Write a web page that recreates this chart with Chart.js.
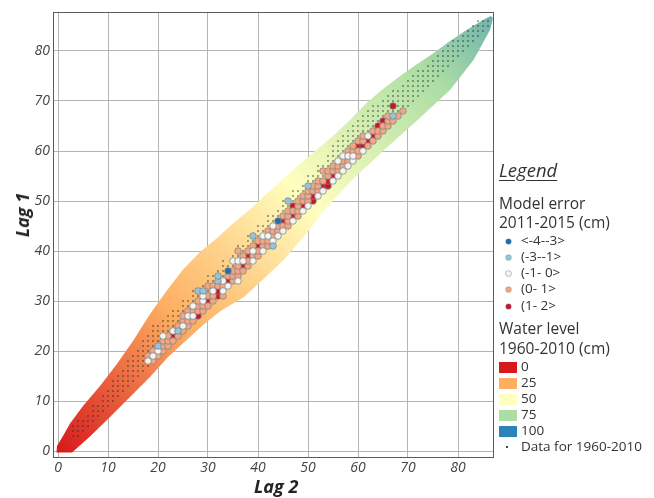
<!DOCTYPE html>
<html><head><meta charset="utf-8">
<script src="https://cdn.jsdelivr.net/npm/chart.js@4/dist/chart.umd.min.js"></script>
<style>
body{margin:0;background:#fff;}
#wrap{position:relative;width:654px;height:498px;font-family:"Open Sans",sans-serif;color:#333;overflow:hidden;}
#c{position:absolute;left:0;top:0;}
.lg{position:absolute;white-space:nowrap;line-height:1;}
.ax{position:absolute;white-space:nowrap;line-height:1;font-size:18px;font-style:italic;font-weight:bold;color:#222;}
</style></head><body>
<div id="wrap"><canvas id="c" width="654" height="498"></canvas><div id="legend"></div></div>
<script>
// ---- tick labels ----
const xTicks = [0,10,20,30,40,50,60,70,80];
const yTicks = [0,10,20,30,40,50,60,70,80];
const xTitle = 'Lag 2';
const yTitle = 'Lag 1';

// ---- water level band 1960-2010 (outline in Lag 2, Lag 1) ----
const bandUpper = [[-0.3,-0.3],[-0.2,1],[1,3],[2.4,5.5],[5,9],[8.4,13],[11.7,17.3],[15,22],[18.4,27.4],[21.7,32],[25,36.3],[28.4,39.8],[31.7,42.5],[35,45.5],[38.4,48.3],[41.7,51.4],[45,54.4],[50,58.8],[55,63],[58.4,66.2],[61.7,69.6],[65,72.4],[68.4,75],[71.7,77.3],[75,79.5],[78.4,82],[81.7,84.2],[84,85.6],[85.7,86.6],[86.6,87]];
const bandLower = [[87,86.6],[86.4,84.2],[83.1,78.2],[78.4,72.2],[71.7,66],[65,60],[58.4,53.8],[53.5,48.5],[49.7,43.5],[45.1,38.2],[41,34.3],[37.2,30.8],[32.5,28],[29,25.2],[25.5,22],[22,18.8],[18.4,14.8],[14.4,10.8],[10.4,6.8],[6.4,2.9],[2.8,-0.3]];
const levelLabels = ['0','25','50','75','100'];
const levelValues = [0,25,50,75,100];
const levelColors = ['#d7191c','#fdae61','#ffffbf','#abdda4','#2b83ba'];

// ---- observed data 1960-2010: [Lag 2, Lag 1 from, Lag 1 to] ----
const dotColumns = [[3,3,5],[4,3,6],[5,4,6],[6,5,7],[7,6,9],[8,7,9],[9,8,11],[10,9,12],[11,10,14],[12,11,15],[13,12,16],[14,13,18],[15,14,19],[16,15,20],[17,16,22],[18,17,23],[19,18,25],[20,20,25],[21,21,26],
[22,22,27],[23,23,28],[24,24,28],[25,25,30],[26,26,30],[27,27,32],[28,28,32],[29,29,33],[30,30,35],[31,31,35],[32,32,36],[33,33,38],[34,34,37],[35,35,39],[36,36,41],[37,37,41],[38,38,43],[39,39,42],[40,40,45],[41,41,45],[42,42,47],[43,43,47],[44,44,48],[45,45,50],[46,46,50],[47,47,52],[48,48,52],[49,49,53],[50,50,55],[51,51,55],[52,52,57],[53,53,57],[54,54,59],
[55,56,61],[56,57,62],[57,58,63],[58,59,64],[59,60,65],[60,61,66],[61,62,67],[62,63,68],[63,64,69],[64,64,69],[65,65,70],[66,66,71],[67,67,72],[68,68,72],[69,68,73],[70,69,74],[71,70,75],[72,71,76],[73,72,76],[74,73,77],[75,74,78],[76,75,79],[77,76,80],[78,77,81],[79,78,82],[80,79,82],[81,80,83],[82,81,84],[83,82,85],[84,83,86],[85,84,86],[86,85,86]];
const dotLabel = 'Data for 1960-2010';

// ---- model error 2011-2015 (cm): [Lag 2, Lag 1] ----
const errorLabels = ['<-4--3>','(-3--1>','(-1- 0>','(0- 1>','(1- 2>'];
const errorColors = ['#1f6fae','#92c5de','#f4f4f4','#f4a582','#cc1426'];
const errDarkBlue = [[34,36],[44,46]];
const errLightBlue = [[20,21],[24,24],[28,32],[29,32],[32,34],[32,35],[39,43],[43,41],[46,50],[50,53],[67,67]];
const errWhite = [[18,18],[19,19],[20,20],[21,23],[23,24],[25,25],[26,27],[27,27],[27,29],[29,30],[29,31],[31,32],[33,32],[33,34],[34,33],[35,38],[36,34],[36,38],[37,38],[39,38],[39,40],[41,40],[41,43],[42,43],[43,42],[43,45],[44,43],[45,44],[47,46],[49,48],[50,49],[52,51],[53,52],[55,54],[56,55],[56,58],[57,56],[57,59],[58,57],[58,59],[59,58],[59,59],[61,60],[62,63]];
const errSalmon = [[18,19],[19,18],[19,20],[20,19],[21,20],[21,21],[21,22],[22,21],[22,22],[22,23],[23,22],[24,23],[24,25],[25,24],[25,26],[25,27],[26,25],[26,26],[26,28],[27,26],[27,28],[28,28],[28,29],[28,30],[29,28],[29,29],[30,29],[30,31],[30,33],[31,30],[31,31],[31,33],[32,33],[33,31],[33,33],[34,35],[35,34],[35,35],[35,36],[36,35],[36,36],[36,37],[36,40],[37,36],[37,39],[38,37],[38,38],[38,40],[39,39],[39,41],[40,39],[40,40],[40,42],[41,41],[41,42],[42,41],[42,42],[42,44],[43,43],[43,44],[44,44],[44,45],[45,45],[45,47],[46,45],[46,46],[46,47],[46,48],[47,48],[48,47],[48,48],[48,49],[48,50],[49,50],[49,51],[50,50],[50,51],[50,52],[51,52],[51,53],[52,52],[52,53],[52,54],[53,54],[53,56],[54,55],[54,56],[55,56],[55,57],[56,56],[56,57],[57,57],[57,58],[58,58],[58,60],[59,60],[59,61],[60,59],[60,60],[60,62],[61,62],[61,63],[62,61],[63,62],[63,64],[64,63],[64,64],[65,64],[65,65],[66,65],[66,66],[66,67],[67,66],[68,67],[69,68]];
const errRed = [[23,23],[28,27],[30,30],[32,31],[32,32],[34,34],[37,37],[38,39],[40,41],[45,46],[47,47],[47,49],[49,49],[51,50],[51,51],[53,53],[54,53],[54,54],[55,55],[60,61],[61,61],[62,62],[63,63],[64,65],[65,66],[67,69]];
const errSeries = [errDarkBlue, errLightBlue, errWhite, errSalmon, errRed];

// ---- build datasets ----
const toPts = a => a.map(p => ({x:p[0], y:p[1]}));
const bandPts = toPts(bandUpper.concat(bandLower));
const dotPts = [];
dotColumns.forEach(c => { for (let m = c[1]; m <= c[2]; m++) dotPts.push({x:c[0], y:m}); });

function bandGradient(ctx){
  const chart = ctx.chart, area = chart.chartArea;
  if (!area || !chart.scales.x) return levelColors[1];
  const sx = chart.scales.x, sy = chart.scales.y;
  const lo = levelValues[0], hi = levelValues[levelValues.length-1];
  const g = chart.ctx.createLinearGradient(sx.getPixelForValue(lo), sy.getPixelForValue(lo), sx.getPixelForValue(hi), sy.getPixelForValue(hi));
  levelValues.forEach((v,i) => g.addColorStop((v-lo)/(hi-lo), levelColors[i]));
  return g;
}

const datasets = [
  {label:'Water level', data: bandPts, showLine:true, fill:'shape', backgroundColor: bandGradient, borderWidth:0, pointRadius:0, order:10, tension:0},
  {label: dotLabel, data: dotPts, pointRadius:0.75, backgroundColor:'#2a2a2a', borderWidth:0, order:5}
];
errSeries.forEach((s,i) => datasets.push({label: errorLabels[i], data: toPts(s), pointRadius:3.3, backgroundColor: errorColors[i], borderColor:'#858585', borderWidth:0.8, order:1}));

const framePlugin = {id:'frame', afterDatasetsDraw(chart){
  const a = chart.chartArea, c = chart.ctx;
  c.save(); c.strokeStyle = '#5a5a5a'; c.lineWidth = 1;
  c.strokeRect(Math.round(a.left)+0.5, Math.round(a.top)+0.5, Math.round(a.right-a.left)-1, Math.round(a.bottom-a.top)-1);
  c.restore();
}};

Chart.defaults.font.family = '"Open Sans", sans-serif';
new Chart(document.getElementById('c'), {
  type:'scatter',
  data:{datasets},
  plugins:[framePlugin],
  options:{
    responsive:false, animation:false, devicePixelRatio:1, events:[],
    layout:{padding:{left:0, top:12, right:160, bottom:0}},
    plugins:{legend:{display:false}, tooltip:{enabled:false}},
    scales:{
      x:{type:'linear', min:-1, max:87.2,
        afterBuildTicks: s => { s.ticks = xTicks.map(v => ({value:v})); },
        afterFit: s => { s.height = 40; },
        grid:{color:'#b4b4b4', lineWidth:1, drawTicks:false},
        border:{display:false},
        ticks:{padding:2, color:'#444', font:{size:14, style:'italic'}, callback: v => String(v)},
        title:{display:false}
      },
      y:{type:'linear', min:-1.4, max:87.8,
        afterBuildTicks: s => { s.ticks = yTicks.map(v => ({value:v})); },
        afterFit: s => { s.width = 53; },
        grid:{color:'#b4b4b4', lineWidth:1, drawTicks:false},
        border:{display:false},
        ticks:{padding:3, color:'#444', font:{size:14, style:'italic'}, callback: v => String(v)},
        title:{display:false}
      }
    }
  }
});

// ---- HTML axis titles and legend ----
const W = document.getElementById('wrap');
const xt = document.createElement('div'); xt.className='ax'; xt.textContent = xTitle;
xt.style.cssText = 'left:254px;top:477px;'; W.appendChild(xt);
const yt = document.createElement('div'); yt.className='ax'; yt.textContent = yTitle;
yt.style.cssText = 'left:22px;top:215px;transform:translate(-50%,-50%) rotate(-90deg);'; W.appendChild(yt);

const L = document.getElementById('legend');
function add(html, style){ const d = document.createElement('div'); d.className='lg'; d.innerHTML = html; d.style.cssText += style; L.appendChild(d); return d; }
add('Legend', 'left:499px;top:161px;font-size:18.5px;font-style:italic;text-decoration:underline;text-underline-offset:3px;');
add('Model error', 'left:499px;top:196px;font-size:15.5px;');
add('2011-2015 (cm)', 'left:499px;top:215px;font-size:15.5px;');
errorLabels.forEach((t,i) => {
  const cy = 241 + i*16.3;
  add('', `left:${505.5}px;top:${cy-2.5}px;width:5px;height:5px;border-radius:50%;background:${errorColors[i]};box-shadow:0 0 0 0.6px #9a9a9a;`);
  add(t.replace(/</g,'&lt;').replace(/>/g,'&gt;'), `left:521px;top:${cy-7.5}px;font-size:13.5px;`);
});
add('Water level', 'left:499px;top:321px;font-size:15.5px;');
add('1960-2010 (cm)', 'left:499px;top:341px;font-size:15.5px;');
levelLabels.forEach((t,i) => {
  const cy = 367 + i*16;
  add('', `left:499px;top:${cy-5.5}px;width:18px;height:11px;background:${levelColors[i]};`);
  add(t, `left:521px;top:${cy-7.5}px;font-size:13.5px;`);
});
add('', 'left:506px;top:446px;width:2px;height:2px;background:#444;');
add(dotLabel, 'left:521px;top:439.5px;font-size:13.5px;');
</script>
</body></html>
